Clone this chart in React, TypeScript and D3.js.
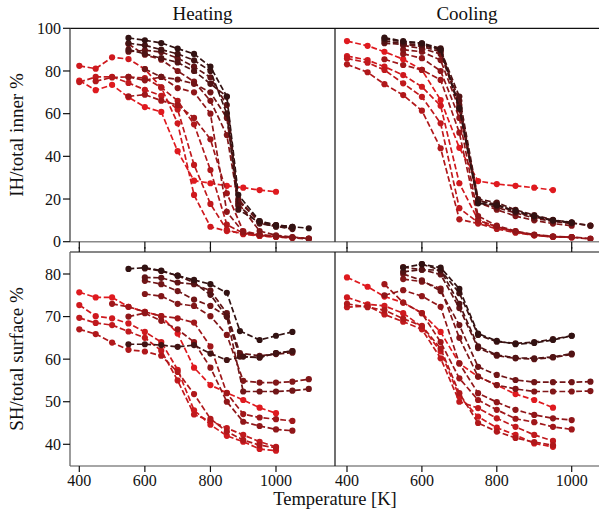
import React from "react";
import * as d3 from "d3";

type Pt = [number, number];

// Heating, inner hydrogen share (%), series ordered bright red -> dark
const heatingIH: Pt[][] = [
  [[400,75.5],[450,71],[500,73.5],[550,67.7],[600,63.1],[650,60.8],[700,42.4],[750,28.6],[800,27.4],[850,26.2],[900,25.3],[950,24.2],[1000,23.4]],
  [[400,82.4],[450,81.1],[500,86.4],[550,85.6],[600,80.9],[650,72.3],[700,55.5],[750,21.9],[800,7.0],[850,5.0],[900,3.9],[950,2.7],[1000,2.3]],
  [[400,74.8],[450,77.2],[500,77.3],[550,74.4],[600,71.2],[650,68.4],[700,62],[750,36],[800,17.7],[850,5.5],[900,3.5],[950,2.7],[1000,2.2],[1050,1.8]],
  [[450,75.2],[500,77],[550,77.2],[600,76.7],[650,72.3],[700,66],[750,55],[800,33.6],[850,8],[900,4],[950,3],[1000,2.4],[1050,1.9]],
  [[550,68.1],[600,68.9],[650,66.1],[700,64],[750,58],[800,48],[850,22.7],[900,5],[950,3.3],[1000,2.6],[1050,2.0],[1100,1.5]],
  [[550,77.2],[600,75.6],[650,77.2],[700,72],[750,70],[800,60],[850,14],[900,4.5],[950,3.2],[1000,2.5],[1050,1.8],[1100,1.3]],
  [[550,92.6],[600,87.6],[650,85.3],[700,80],[750,75],[800,66],[850,50],[885,18],[950,5],[1000,3],[1050,2.2],[1100,1.5]],
  [[600,80.9],[650,77.2],[700,76],[750,74],[800,70],[850,58],[885,20],[950,9],[1000,7.5],[1050,6.5]],
  [[550,89],[600,89.7],[650,88.9],[700,86],[750,82],[800,77],[850,64],[885,19],[950,9.5],[1000,7.8],[1050,7.0]],
  [[550,90],[600,88],[650,86],[700,84],[750,80],[800,74],[850,68],[885,17],[950,8.5],[1000,7.2],[1050,5.9]],
  [[550,93],[600,92],[650,90],[700,88],[750,85],[800,80],[850,60],[885,15],[950,9],[1000,7],[1050,6.5]],
  [[550,95.5],[600,94.4],[650,93.1],[700,90.5],[750,88],[800,82],[850,68],[885,22],[950,9.7],[1000,7.8],[1050,7.0],[1100,6.3]],
];

// Cooling, inner hydrogen share (%)
const coolingIH: Pt[][] = [
  [[400,94],[455,91.8],[500,89],[550,85.5],[600,80.5],[650,66.4],[700,44],[750,28.4],[800,27],[850,26.2],[900,25.3],[950,24.2]],
  [[400,87],[455,85.1],[500,82],[550,78.1],[600,72.6],[650,63.7],[700,27.4],[750,10.2],[800,7.0],[850,4.7],[900,3.1],[950,2.3]],
  [[400,85.9],[455,83.9],[500,80.5],[550,74.2],[600,67.9],[650,55.5],[700,15.7],[750,9],[800,6.5],[850,4.5],[900,3],[950,2.2],[1000,2.0]],
  [[400,83.1],[455,79.4],[500,73.8],[550,68.7],[600,61.4],[650,43.8],[700,10.5],[750,8.5],[800,6],[850,4.2],[900,3],[950,2.3],[1000,2.1]],
  [[500,85.5],[550,82.8],[600,80.5],[650,75.8],[700,51.1],[750,10],[800,7],[850,4.8],[900,3.2],[950,2.4],[1000,2.1],[1050,1.3]],
  [[550,88],[600,86],[650,80],[700,58],[750,12],[800,7.5],[850,5],[900,3.3],[950,2.5],[1000,2.2],[1050,1.5]],
  [[550,90],[600,89],[650,85.1],[700,62],[750,18.3],[800,15],[850,12],[900,10],[950,8.5],[1000,7.5]],
  [[550,92],[600,90.5],[650,88],[700,64],[750,19.5],[800,17],[850,14],[900,11.5],[950,10],[1000,8.8],[1050,7.5]],
  [[500,93],[550,92.5],[600,91.5],[650,89],[700,66],[750,18.3],[800,16],[850,13.5],[900,11],[950,9.5],[1000,8.5]],
  [[500,94],[550,93],[600,92.2],[650,89.8],[700,68],[750,20],[800,18.3],[850,14.9],[900,12.5],[950,10.2],[1000,9.1]],
  [[500,95],[550,93.7],[600,93],[650,90.6],[700,63],[750,19],[800,17.5],[850,14],[900,12],[950,10],[1000,8.8],[1050,7.5]],
  [[500,95.6],[550,94],[600,93],[650,90],[700,62.5],[750,18],[800,17],[850,14.5],[900,12],[950,10],[1000,9]],
];

// Heating, surface hydrogen share (%)
const heatingSH: Pt[][] = [
  [[400,75.7],[450,74.5],[500,74.5],[550,72.3],[600,71.1],[650,70.1],[700,66],[750,58],[800,53.9],[850,52.1],[900,50.4],[950,48.6],[1000,47.3]],
  [[400,72.7],[450,70.1],[500,69.6],[550,68.4],[600,66.4],[650,64],[700,57.5],[750,48],[800,44.6],[850,42],[900,40.6],[950,38.9],[1000,38.5]],
  [[400,69.7],[450,68.5],[500,68],[550,66.5],[600,65],[650,62],[700,55],[750,47],[800,45.5],[850,43.8],[900,42.2],[950,40.6],[1000,39.4]],
  [[400,67.0],[450,65.9],[500,63.9],[550,62.2],[600,61.8],[650,60.8],[700,57],[750,51.8],[800,46],[850,43],[900,41],[950,39.8],[1000,39.2]],
  [[500,73],[550,72.3],[600,71.1],[650,70.1],[700,69.6],[750,68.6],[800,63],[850,52],[900,47.1],[950,46.3],[1000,45.9],[1050,45.5]],
  [[550,70],[600,70.8],[650,69],[700,67],[750,64],[800,58],[850,50],[900,45.3],[950,44.3],[1000,43.5],[1050,43.2]],
  [[600,75.3],[650,74.8],[700,73],[750,72.5],[800,70.1],[850,65.7],[900,54.9],[950,54.5],[1000,54.5],[1050,54.7],[1100,55.3]],
  [[600,78.4],[650,77.6],[700,76],[750,74],[800,72.5],[850,70],[900,52.4],[950,52.4],[1000,52.4],[1050,52.6],[1100,53.0]],
  [[600,79.2],[650,79.1],[700,78],[750,77.6],[800,76.1],[850,70.8],[890,61.4],[950,60.8],[1000,61.2],[1050,61.5]],
  [[600,81.3],[650,80.7],[700,79.6],[750,78],[800,75.1],[850,70],[890,60.6],[950,60.4],[1000,61.4],[1050,61.9]],
  [[550,63.5],[600,63.5],[650,63.3],[700,62.9],[750,63.3],[800,61.3],[850,59.8],[900,60.6],[950,60.4],[1000,61.4],[1050,61.9]],
  [[550,81.2],[600,81.5],[650,80.8],[700,79.6],[750,78.6],[800,77.6],[850,75.6],[890,66.6],[950,64.5],[1000,65.5],[1050,66.4]],
];

// Cooling, surface hydrogen share (%)
const coolingSH: Pt[][] = [
  [[400,79.2],[455,77],[500,74.7],[550,73.3],[600,70.8],[650,66.4],[700,59],[750,55.9],[800,53.9],[850,51.8],[900,50.4],[950,48.6]],
  [[400,74.5],[455,72.9],[500,72.5],[550,70.8],[600,67.6],[650,61.8],[700,51.2],[750,46.5],[800,43.9],[850,42.2],[900,40.2],[950,39.4]],
  [[400,72.2],[455,72.5],[500,70.5],[550,68.8],[600,67],[650,60.2],[700,50],[750,48.5],[800,46.1],[850,44.1],[900,42.2],[950,40.8]],
  [[400,73],[455,72.2],[500,71.5],[550,69.5],[600,67.8],[650,62.5],[700,52],[750,45],[800,43],[850,41.5],[900,40.5],[950,39.8]],
  [[500,77.6],[550,73.3],[600,70.8],[650,64],[700,55.5],[750,50.4],[800,48.1],[850,46],[900,45.2],[950,44.1],[1000,43.5]],
  [[500,75],[550,76.2],[600,74.8],[650,72.3],[700,59],[750,52],[800,49.9],[850,48.1],[900,46.9],[950,46.1],[1000,45.7]],
  [[550,78.8],[600,78.2],[650,76.6],[700,65],[750,55.9],[800,53.9],[850,53],[900,52.4],[950,52.4],[1000,52.4],[1050,52.5]],
  [[550,80],[600,78.5],[650,76],[700,68],[750,58.2],[800,56.3],[850,55.1],[900,54.6],[950,54.6],[1000,54.6],[1050,54.7]],
  [[550,81.6],[600,81],[650,79.9],[700,72],[750,62.6],[800,60.8],[850,60.2],[900,60.0],[950,60.4],[1000,61.1]],
  [[550,80.5],[600,81],[650,80.9],[700,73],[750,63],[800,61],[850,60.3],[900,60.2],[950,60.5],[1000,61.3]],
  [[600,82.3],[650,80.9],[700,75.5],[750,65.7],[800,64.1],[850,63.7],[900,64],[950,64.7],[1000,65.5]],
  [[550,81.5],[600,82.3],[650,81.5],[700,76.5],[750,66],[800,64.3],[850,63.5],[900,63.8],[950,64.5],[1000,65.5]],
];

const xTicks = [400, 600, 800, 1000];
const ihTicks = [0, 20, 40, 60, 80, 100];
const shTicks = [40, 50, 60, 70, 80];
const columnTitles = ["Heating", "Cooling"];
const rowLabels = ["IH/total inner %", "SH/total surface %"];
const xLabel = "Temperature [K]";

const FONT = "'Liberation Serif', 'DejaVu Serif', serif";
const colorOf = (i: number, n: number) =>
  d3.interpolateRgb("#df1a1f", "#321212")(n > 1 ? i / (n - 1) : 0);

type PanelProps = {
  id: string;
  data: Pt[][];
  x: d3.ScaleLinear<number, number>;
  y: d3.ScaleLinear<number, number>;
  box: { x0: number; x1: number; y0: number; y1: number };
};

function Panel({ id, data, x, y, box }: PanelProps) {
  const line = d3
    .line<Pt>()
    .x((d) => x(d[0]))
    .y((d) => y(d[1]));
  return (
    <g>
      <clipPath id={id}>
        <rect x={box.x0} y={box.y0 - 5} width={box.x1 - box.x0} height={box.y1 - box.y0 + 10} />
      </clipPath>
      <g clipPath={`url(#${id})`}>
        {data.map((s, i) => {
          const c = colorOf(i, data.length);
          return (
            <g key={i}>
              <path d={line(s) || ""} fill="none" stroke={c} strokeWidth={1.7} strokeDasharray="5.8,2.6" />
              {s.map((p, j) => (
                <circle key={j} cx={x(p[0])} cy={y(p[1])} r={3.1} fill={c} />
              ))}
            </g>
          );
        })}
      </g>
    </g>
  );
}

export default function App() {
  const W = 599, H = 510;
  const L = 70, M = 335, R = 599;
  const T0 = 28.3, T1 = 241.7, B0 = 252, B1 = 466;

  const xL = d3.scaleLinear().domain([400, 1000]).range([79.3, 276]);
  const xR = d3.scaleLinear().domain([400, 1000]).range([347, 571.7]);
  const yTop = d3.scaleLinear().domain([0, 100]).range([T1, T0]);
  const yBot = d3.scaleLinear().domain([40, 80]).range([444.3, 274]);

  const tickFs = 16;
  const labelFs = 19;

  return (
    <svg width={W} height={H} style={{ position: "absolute", left: 0, top: 0, background: "#fff" }} fontFamily={FONT}>
      <rect x={0} y={0} width={W} height={H} fill="#fff" />
      <Panel id="c1" data={heatingIH} x={xL} y={yTop} box={{ x0: L, x1: M, y0: T0, y1: T1 }} />
      <Panel id="c2" data={coolingIH} x={xR} y={yTop} box={{ x0: M, x1: R, y0: T0, y1: T1 }} />
      <Panel id="c3" data={heatingSH} x={xL} y={yBot} box={{ x0: L, x1: M, y0: B0, y1: B1 }} />
      <Panel id="c4" data={coolingSH} x={xR} y={yBot} box={{ x0: M, x1: R, y0: B0, y1: B1 }} />

      <line x1={L} x2={R} y1={T0} y2={T0} stroke="#111" strokeWidth={1.2} />
      <line x1={L} x2={R} y1={B0} y2={B0} stroke="#111" strokeWidth={1.2} />
      <line x1={L} x2={R} y1={T1} y2={T1} stroke="#888" strokeWidth={1.6} />
      <line x1={L} x2={R} y1={B1} y2={B1} stroke="#888" strokeWidth={1.6} />
      <line x1={L} x2={L} y1={T0} y2={T1} stroke="#444" strokeWidth={1.3} />
      <line x1={L} x2={L} y1={B0} y2={B1} stroke="#666" strokeWidth={1.3} />
      <line x1={M} x2={M} y1={T0} y2={T1} stroke="#111" strokeWidth={1.2} />
      <line x1={M} x2={M} y1={B0} y2={B1} stroke="#111" strokeWidth={1.2} />

      {[xL, xR].map((xs, k) =>
        xTicks.map((t) => (
          <g key={`xt${k}-${t}`}>
            <line x1={xs(t)} x2={xs(t)} y1={T1} y2={T1 + 7} stroke="#111" strokeWidth={1.2} />
            <line x1={xs(t)} x2={xs(t)} y1={B0} y2={B0 - 5} stroke="#111" strokeWidth={1.2} />
            <line x1={xs(t)} x2={xs(t)} y1={B1} y2={B1 + 6} stroke="#111" strokeWidth={1.2} />
            <text x={xs(t)} y={B1 + 20} textAnchor="middle" fontSize={tickFs} fill="#111">
              {t}
            </text>
          </g>
        ))
      )}

      {ihTicks.map((t) => (
        <g key={`yi${t}`}>
          <line x1={L - 7} x2={L} y1={yTop(t)} y2={yTop(t)} stroke="#111" strokeWidth={1.2} />
          <text x={L - 9} y={yTop(t)} dy="0.35em" textAnchor="end" fontSize={tickFs} fill="#111">
            {t}
          </text>
        </g>
      ))}
      {shTicks.map((t) => (
        <g key={`ys${t}`}>
          <line x1={L - 7} x2={L} y1={yBot(t)} y2={yBot(t)} stroke="#111" strokeWidth={1.2} />
          <text x={L - 9} y={yBot(t)} dy="0.35em" textAnchor="end" fontSize={tickFs} fill="#111">
            {t}
          </text>
        </g>
      ))}

      <text x={(L + M) / 2} y={20} textAnchor="middle" fontSize={labelFs} fill="#111">
        {columnTitles[0]}
      </text>
      <text x={(M + R) / 2} y={20} textAnchor="middle" fontSize={labelFs} fill="#111">
        {columnTitles[1]}
      </text>
      <text transform={`translate(23,${(T0 + T1) / 2}) rotate(-90)`} textAnchor="middle" fontSize={labelFs} fill="#111">
        {rowLabels[0]}
      </text>
      <text transform={`translate(23,${(B0 + B1) / 2}) rotate(-90)`} textAnchor="middle" fontSize={labelFs} fill="#111">
        {rowLabels[1]}
      </text>
      <text x={M} y={505} textAnchor="middle" fontSize={18.5} fill="#111">
        {xLabel}
      </text>
    </svg>
  );
}
